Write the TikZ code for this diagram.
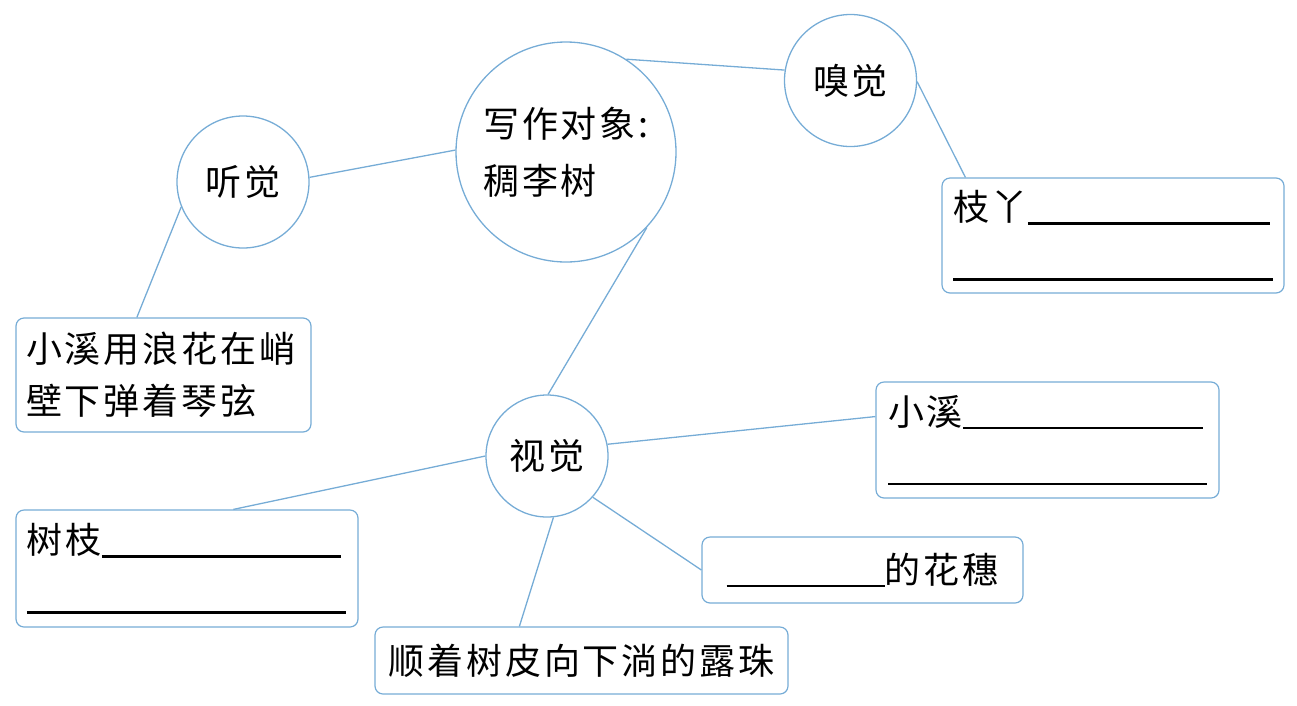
\documentclass[tikz,border=0pt]{standalone}
\usepackage{fontspec}
\setmainfont{Noto Sans CJK SC}[LetterSpace=8]
\usepackage{xcolor}
\usetikzlibrary{calc,positioning}

\definecolor{mapblue}{RGB}{118,172,214}
\newcommand{\fillline}[1]{\rule[-4pt]{#1pt}{2.4pt}}

\begin{document}
\begin{tikzpicture}[x=1pt,y=-1pt]
      \tikzstyle{cnode} = [draw=mapblue, line width=1.3pt, circle, inner sep=0pt, align=center, font=\fontsize{36}{57}\selectfont]
      \tikzstyle{bnode} = [draw=mapblue, line width=1.2pt, rectangle, rounded corners=8pt, align=left, font=\fontsize{36}{56}\selectfont]
      \tikzstyle{link} = [draw=mapblue, line width=1.3pt]

      \useasboundingbox (0,0) rectangle (1297,705);

      \node[cnode, minimum size=220pt, align=left] (topic) at (566,152) {写作对象:\\稠李树};
      \node[cnode, minimum size=132pt] (smell) at (850.5,80.5) {嗅觉};
      \node[cnode, minimum size=132pt] (hear) at (243,182) {听觉};
      \node[cnode, minimum size=122pt] (sight) at (547,456) {视觉};

      \node[bnode, minimum width=342pt, minimum height=115pt, inner xsep=11pt, text width=320pt] (twig) at (1113,235.5) {枝丫\fillline{242}\\\fillline{320}};
      \node[bnode, minimum width=295pt, minimum height=114pt, inner xsep=10pt, text width=275pt, font=\fontsize{36}{52}\selectfont] (brook) at (163.5,375) {小溪用浪花在峭\\壁下弹着琴弦};
      \node[bnode, minimum width=343pt, minimum height=116pt, inner xsep=12pt, text width=319pt] (stream) at (1047.5,440) {小溪\fillline{240}\\\fillline{319}};
      \node[bnode, minimum width=342pt, minimum height=117pt, inner xsep=11pt, text width=320pt] (branch) at (187,568.5) {树枝\fillline{239}\\\fillline{319}};
      \node[bnode, minimum width=321pt, minimum height=66pt, align=center] (spike) at (862.5,570) {\fillline{158}的花穗};
      \node[bnode, minimum width=413pt, minimum height=67pt, align=center] (dew) at (581.5,660.5) {顺着树皮向下淌的露珠};

      % connections
      \draw[link] (topic.57) -- (smell.171);
      \draw[link] (smell.-1) -- ($(twig.north west)!0.07!(twig.north east)$);
      \draw[link] (hear.4) -- (topic.179);
      \draw[link] (hear.202) -- ($(brook.north west)!0.41!(brook.north east)$);
      \draw[link] (topic.-43) -- (sight.89);
      \draw[link] (sight.11) -- ($(stream.north west)!0.30!(stream.south west)$);
      \draw[link] (sight.180) -- ($(branch.north west)!0.635!(branch.north east)$);
      \draw[link] (sight.-42) -- (spike.west);
      \draw[link] (sight.-84) -- ($(dew.north west)!0.35!(dew.north east)$);
\end{tikzpicture}
\end{document}
